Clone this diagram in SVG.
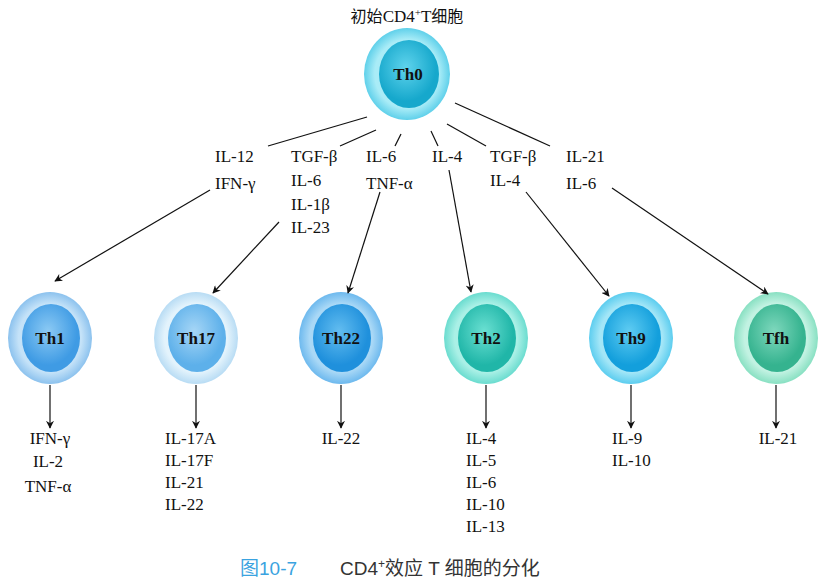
<svg xmlns="http://www.w3.org/2000/svg" width="824" height="588" viewBox="0 0 824 588">
<style>
text{font-family:"Liberation Serif","Times New Roman","DejaVu Serif",serif;font-size:17px;fill:#111}
.c{text-anchor:middle}
.lbl{font-weight:bold;font-size:17px}
.cj{font-family:"Noto Sans CJK SC",sans-serif;font-size:16px}
.cn{font-family:"Liberation Sans","Noto Sans CJK SC",sans-serif;font-size:19px;fill:#333}
.con line{stroke:#111;stroke-width:1.2}
.ar{marker-end:url(#ah)}
</style>
<defs>
<marker id="ah" viewBox="0 0 10 10" refX="9" refY="5" markerWidth="8" markerHeight="8" orient="auto" markerUnits="userSpaceOnUse"><path d="M0,0L10,5L0,10L3,5z" fill="#111"/></marker>
<radialGradient id="g0o"><stop offset="0.75" stop-color="#a9ecf7"/><stop offset="1" stop-color="#5fd0ea"/></radialGradient>
<radialGradient id="g0i" cx="0.45" cy="0.4"><stop offset="0" stop-color="#5fd3ec"/><stop offset="1" stop-color="#16a8cc"/></radialGradient>
<radialGradient id="g1o"><stop offset="0.75" stop-color="#c4e2f8"/><stop offset="1" stop-color="#8cc2ee"/></radialGradient>
<radialGradient id="g1i" cx="0.45" cy="0.4"><stop offset="0" stop-color="#8ccaf4"/><stop offset="1" stop-color="#3f9be4"/></radialGradient>
<radialGradient id="g2o"><stop offset="0.75" stop-color="#e3f3fc"/><stop offset="1" stop-color="#b8dcf4"/></radialGradient>
<radialGradient id="g2i" cx="0.45" cy="0.4"><stop offset="0" stop-color="#a6d6f6"/><stop offset="1" stop-color="#5db0ea"/></radialGradient>
<radialGradient id="g3o"><stop offset="0.75" stop-color="#a9d8f6"/><stop offset="1" stop-color="#6db9ee"/></radialGradient>
<radialGradient id="g3i" cx="0.45" cy="0.4"><stop offset="0" stop-color="#63bdf0"/><stop offset="1" stop-color="#1f90dc"/></radialGradient>
<radialGradient id="g4o"><stop offset="0.75" stop-color="#aaf0e6"/><stop offset="1" stop-color="#6adccf"/></radialGradient>
<radialGradient id="g4i" cx="0.45" cy="0.4"><stop offset="0" stop-color="#6be0d2"/><stop offset="1" stop-color="#20b6a8"/></radialGradient>
<radialGradient id="g5o"><stop offset="0.75" stop-color="#a3e6f7"/><stop offset="1" stop-color="#5ccdef"/></radialGradient>
<radialGradient id="g5i" cx="0.45" cy="0.4"><stop offset="0" stop-color="#5fccf2"/><stop offset="1" stop-color="#139fdc"/></radialGradient>
<radialGradient id="g6o"><stop offset="0.75" stop-color="#c2f2e2"/><stop offset="1" stop-color="#88e0c2"/></radialGradient>
<radialGradient id="g6i" cx="0.45" cy="0.4"><stop offset="0" stop-color="#7fd8bd"/><stop offset="1" stop-color="#35b38f"/></radialGradient>
</defs>
<rect width="824" height="588" fill="#fff"/>
<text class="c" x="407" y="22"><tspan class="cj">初始</tspan>CD4<tspan dy="-6" font-size="11">+</tspan><tspan dy="6">T</tspan><tspan class="cj">细胞</tspan></text>
<g id="th0"><ellipse cx="407" cy="74" rx="43" ry="46" fill="url(#g0o)"/><ellipse cx="409" cy="74" rx="30" ry="34" fill="url(#g0i)"/><text class="c lbl" x="408" y="80">Th0</text></g>
<g id="th1"><ellipse cx="50" cy="338" rx="42" ry="46" fill="url(#g1o)"/><ellipse cx="51" cy="338" rx="29" ry="34" fill="url(#g1i)"/><text class="c lbl" x="50" y="344">Th1</text></g>
<g id="th17"><ellipse cx="196" cy="338" rx="42" ry="46" fill="url(#g2o)"/><ellipse cx="197" cy="338" rx="29" ry="34" fill="url(#g2i)"/><text class="c lbl" x="196" y="344">Th17</text></g>
<g id="th22"><ellipse cx="341" cy="338" rx="42" ry="46" fill="url(#g3o)"/><ellipse cx="342" cy="338" rx="29" ry="34" fill="url(#g3i)"/><text class="c lbl" x="341" y="344">Th22</text></g>
<g id="th2"><ellipse cx="486" cy="338" rx="42" ry="46" fill="url(#g4o)"/><ellipse cx="487" cy="338" rx="29" ry="34" fill="url(#g4i)"/><text class="c lbl" x="486" y="344">Th2</text></g>
<g id="th9"><ellipse cx="631" cy="338" rx="42" ry="46" fill="url(#g5o)"/><ellipse cx="632" cy="338" rx="29" ry="34" fill="url(#g5i)"/><text class="c lbl" x="631" y="344">Th9</text></g>
<g id="tfh"><ellipse cx="776" cy="338" rx="42" ry="46" fill="url(#g6o)"/><ellipse cx="777" cy="338" rx="29" ry="34" fill="url(#g6i)"/><text class="c lbl" x="776" y="344">Tfh</text></g>
<g class="con">
<line x1="367" y1="117" x2="268" y2="146"/><line class="ar" x1="210" y1="190" x2="55" y2="281"/>
<line x1="376" y1="130" x2="340" y2="146"/><line class="ar" x1="279" y1="222" x2="213" y2="293"/>
<line x1="401" y1="134" x2="395" y2="146"/><line class="ar" x1="380" y1="192" x2="348" y2="293"/>
<line x1="431" y1="131" x2="438" y2="146"/><line class="ar" x1="449" y1="170" x2="471" y2="292"/>
<line x1="447" y1="124" x2="486" y2="146"/><line class="ar" x1="526" y1="192" x2="609" y2="296"/>
<line x1="455" y1="103" x2="550" y2="146"/><line class="ar" x1="612" y1="188" x2="768" y2="294"/>
<line class="ar" x1="50" y1="385" x2="50" y2="428"/>
<line class="ar" x1="196" y1="385" x2="196" y2="428"/>
<line class="ar" x1="341" y1="385" x2="341" y2="428"/>
<line class="ar" x1="486" y1="385" x2="486" y2="428"/>
<line class="ar" x1="631" y1="385" x2="631" y2="428"/>
<line class="ar" x1="776" y1="385" x2="776" y2="428"/>
</g>
<g id="labels">
<text x="215" y="162">IL-12</text><text x="215" y="189">IFN-γ</text>
<text x="291" y="162">TGF-β</text><text x="291" y="186">IL-6</text><text x="291" y="210">IL-1β</text><text x="291" y="233">IL-23</text>
<text x="366" y="162">IL-6</text><text x="366" y="189">TNF-α</text>
<text x="432" y="162">IL-4</text>
<text x="490" y="162">TGF-β</text><text x="490" y="186">IL-4</text>
<text x="566" y="162">IL-21</text><text x="566" y="189">IL-6</text>
</g>
<g id="outputs">
<text class="c" x="50" y="444">IFN-γ</text><text class="c" x="48" y="467">IL-2</text><text class="c" x="48" y="492">TNF-α</text>
<text x="165" y="444">IL-17A</text><text x="165" y="466">IL-17F</text><text x="165" y="488">IL-21</text><text x="165" y="510">IL-22</text>
<text class="c" x="341" y="444">IL-22</text>
<text x="466" y="444">IL-4</text><text x="466" y="466">IL-5</text><text x="466" y="488">IL-6</text><text x="466" y="510">IL-10</text><text x="466" y="532">IL-13</text>
<text x="612" y="444">IL-9</text><text x="612" y="466">IL-10</text>
<text class="c" x="778" y="444">IL-21</text>
</g>
<text class="cn" x="240" y="575" style="fill:#3aa3e0">图10-7</text>
<text class="cn" x="340" y="575">CD4<tspan dy="-7" font-size="12">+</tspan><tspan dy="7">效应 T 细胞的分化</tspan></text>
</svg>
